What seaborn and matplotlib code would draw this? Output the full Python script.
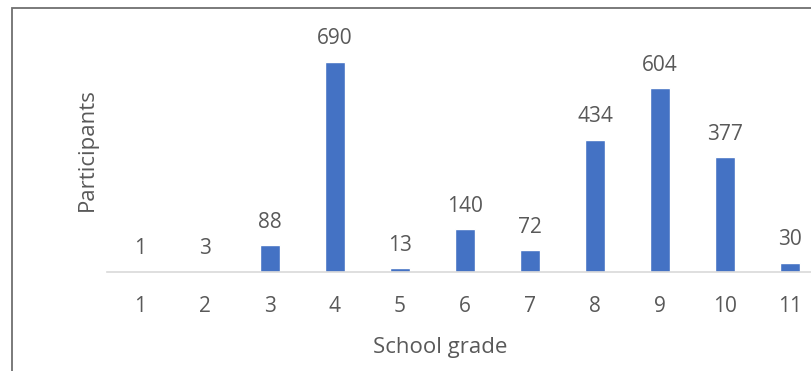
import matplotlib
matplotlib.use('Agg')
import pandas as pd
import seaborn as sns
import matplotlib.pyplot as plt
from matplotlib.patches import Rectangle

# participants per school grade
grades = ['1', '2', '3', '4', '5', '6', '7', '8', '9', '10', '11']
participants = [1, 3, 88, 690, 13, 140, 72, 434, 604, 377, 30]

df = pd.DataFrame({'School grade': grades, 'Participants': participants})

sns.set_style('white')
plt.rcParams['font.family'] = ['Open Sans', 'DejaVu Sans']

W, H = 812, 371
fig = plt.figure(figsize=(W / 100, H / 100), dpi=100)

# chart frame (cut off on right and bottom like the reference)
fig.patches.append(Rectangle((12 / W, -0.1), 1.2, (H - 8) / H + 0.1,
                             transform=fig.transFigure, fill=False,
                             edgecolor='#6f6f6f', linewidth=1.3))

left, right = 107.5, 822.5
base, top = 272, 30
ax = fig.add_axes([left / W, (H - base) / H, (right - left) / W, (base - top) / H])

sns.barplot(data=df, x='School grade', y='Participants', color='#4472C4',
            width=0.32, saturation=1, ax=ax)

px_per_unit = (272 - 62) / 690
ax.set_ylim(0, (base - top) / px_per_unit)
ax.set_xlim(-0.5, len(grades) - 0.5)

for i, v in enumerate(participants):
    ax.annotate(str(v), (i, v), xytext=(0, 9), textcoords='offset points',
                ha='center', va='bottom', fontsize=15, color='#595959')

for s in ['top', 'right', 'left']:
    ax.spines[s].set_visible(False)
ax.spines['bottom'].set_color('#D9D9D9')
ax.spines['bottom'].set_linewidth(1.2)
ax.set_yticks([])
ax.tick_params(axis='x', length=0, pad=17, labelsize=15, labelcolor='#595959')
ax.set_xlabel('')
ax.set_ylabel('')

fig.text(440 / W, 1 - 348 / H, 'School grade', ha='center', va='center',
         fontsize=16, color='#595959')
fig.text(87 / W, 1 - 150 / H, 'Participants', ha='center', va='center',
         rotation=90, fontsize=16, color='#595959')

fig.savefig('out.png', dpi=100)
